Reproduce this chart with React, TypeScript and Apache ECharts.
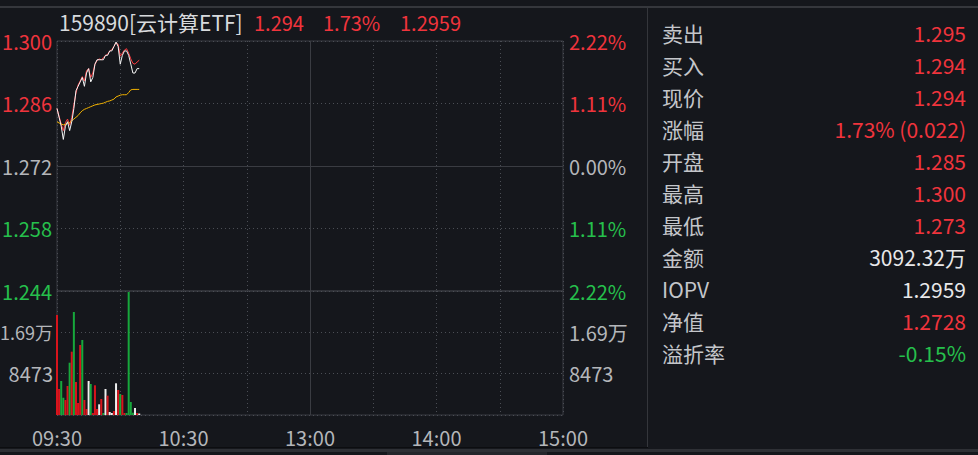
import React, { useEffect, useRef } from 'react';
import * as echarts from 'echarts';

// ---------- data ----------
const prevClose = 1.272;
const pctRange = 2.22; // axis range in percent of previous close
const pctStep = 1.11;

const timeTicks: [number, string][] = [
  [0, '09:30'],
  [60, '10:30'],
  [120, '13:00'],
  [180, '14:00'],
  [240, '15:00'],
];

const price = [
  1.285, 1.283, 1.281, 1.278, 1.281, 1.282, 1.280, 1.282, 1.285, 1.289,
  1.290, 1.291, 1.292, 1.290, 1.293, 1.294, 1.291, 1.292, 1.295, 1.296,
  1.296, 1.296, 1.296, 1.297, 1.297, 1.298, 1.298, 1.299, 1.300, 1.299,
  1.295, 1.297, 1.298, 1.298, 1.297, 1.295, 1.293, 1.293, 1.294, 1.294,
];

const iopv = [
  1.2850, 1.2832, 1.2815, 1.2800, 1.2818, 1.2826, 1.2812, 1.2830, 1.2858, 1.2885,
  1.2903, 1.2912, 1.2922, 1.2912, 1.2935, 1.2940, 1.2920, 1.2930, 1.2950, 1.2958,
  1.2962, 1.2960, 1.2965, 1.2970, 1.2972, 1.2980, 1.2983, 1.2990, 1.2998, 1.2995,
  1.2968, 1.2975, 1.2982, 1.2985, 1.2975, 1.2962, 1.2952, 1.2950, 1.2955, 1.2959,
];

const avgPrice = [
  1.2820, 1.2817, 1.2815, 1.2813, 1.2814, 1.2816, 1.2818, 1.2822, 1.2826, 1.2830,
  1.2834, 1.2840, 1.2845, 1.2848, 1.2850, 1.2852, 1.2854, 1.2856, 1.2858, 1.2859,
  1.2860, 1.2861, 1.2862, 1.2864, 1.2866, 1.2867, 1.2869, 1.2871, 1.2876, 1.2878,
  1.2880, 1.2881, 1.2881, 1.2881, 1.2886, 1.2892, 1.2893, 1.2893, 1.2893, 1.2893,
];

const volume = [
  20500, 5330, 6970, 3550, 3075, 5945, 10720, 12980, 21115, 6765,
  2460, 14350, 15375, 3075, 1230, 6970, 6355, 410, 6090, 1230,
  2190, 3280, 410, 5330, 3960, 615, 410, 820, 6500, 5125,
  4305, 4100, 410, 410, 25215, 2665, 470, 1435, 410, 300,
];
// 1 = up (red), -1 = down (green), 0 = flat (white)
const volumeDirection = [
  1, 1, -1, -1, 1, 1, -1, 1, -1, 1,
  1, 1, -1, 1, 1, 0, -1, 1, 1, 1,
  0, 1, -1, 0, 1, 0, 0, 1, 0, 1,
  -1, 1, 1, -1, -1, -1, -1, 0, 1, 0,
];
const volumeStep = 8473;
const volumeMax = 25419;

const headerCode = '159890[云计算ETF]';
const headerValues = ['1.294', '1.73%', '1.2959'];

const quoteLabels = ['卖出', '买入', '现价', '涨幅', '开盘', '最高', '最低', '金额', 'IOPV', '净值', '溢折率'];
const quoteValues = ['1.295', '1.294', '1.294', '1.73% (0.022)', '1.285', '1.300', '1.273', '3092.32万', '1.2959', '1.2728', '-0.15%'];
const quoteDirection = [1, 1, 1, 1, 1, 1, 1, 0, 0, 1, -1];

// ---------- styles ----------
const BG = '#15171c';
const RED = '#f0343c';
const GREEN = '#26c04c';
const GRAY = '#b4b6ba';
const LABEL = '#c4c6ca';
const WHITE = '#e8e8ea';
const BORDER = '#3a3c42';
const DOT = '#4b4e55';
const FONT = '"Noto Sans CJK SC", "Noto Sans", sans-serif';

const dirColor = (d: number) => (d > 0 ? RED : d < 0 ? GREEN : WHITE);
const toPct = (p: number) => (p / prevClose - 1) * 100;

export default function App() {
  const ref = useRef<HTMLDivElement>(null);

  useEffect(() => {
    if (!ref.current) return;
    const chart = echarts.init(ref.current, undefined, { renderer: 'svg' });

    const tickLabel = new Map(timeTicks);
    const pctColor = (v: any) => {
      const n = Number(v);
      return n > 1e-9 ? RED : n < -1e-9 ? GREEN : GRAY;
    };
    const volFmt = (v: number) => {
      if (v <= 0 || v >= volumeMax - 1) return '';
      return v >= 10000 ? (v / 10000).toFixed(2) + '万' : String(v);
    };
    const volFmtLeft = (v: number) => {
      const s = volFmt(v);
      return v >= 10000 && s ? `{w|${s}}` : s;
    };

    const xCommon = {
      type: 'value',
      min: 0,
      max: 240,
      interval: 30,
      axisLine: { show: false },
      axisTick: { show: false },
      splitLine: { show: true, lineStyle: { color: DOT, type: [1, 3], width: 1 } },
    };

    const priceY = {
      type: 'value',
      gridIndex: 0,
      min: -pctRange,
      max: pctRange,
      interval: pctStep,
      axisLine: { show: false },
      axisTick: { show: false },
    };
    const volY = {
      type: 'value',
      gridIndex: 1,
      min: 0,
      max: volumeMax,
      interval: volumeStep,
      axisLine: { show: false },
      axisTick: { show: false },
    };

    const vertical120 = {
      symbol: 'none',
      silent: true,
      label: { show: false },
      lineStyle: { color: BORDER, type: 'solid', width: 1 },
    };

    const gridBase = {
      left: 57, width: 506, show: true, borderColor: BORDER, borderWidth: 1,
      backgroundColor: 'transparent', containLabel: false, outerBoundsMode: 'none',
    };

    const option: any = {
      animation: false,
      backgroundColor: BG,
      textStyle: { fontFamily: FONT },
      grid: [
        { ...gridBase, top: 41, height: 250 },
        { ...gridBase, top: 291, height: 124 },
      ],
      xAxis: [
        { ...xCommon, gridIndex: 0, axisLabel: { show: false } },
        {
          ...xCommon,
          gridIndex: 1,
          axisLabel: {
            show: true,
            margin: 12,
            color: GRAY,
            fontSize: 20,
            fontFamily: FONT,
            formatter: (v: number) => tickLabel.get(v) ?? '',
          },
        },
      ],
      yAxis: [
        {
          ...priceY,
          position: 'left',
          splitLine: { show: true, lineStyle: { color: DOT, type: [1, 3], width: 1 } },
          axisLabel: {
            margin: 5,
            fontSize: 20,
            fontFamily: FONT,
            color: pctColor,
            formatter: (v: number) => (prevClose * (1 + v / 100)).toFixed(3),
          },
        },
        {
          ...priceY,
          position: 'right',
          splitLine: { show: false },
          axisLabel: {
            margin: 6,
            fontSize: 20,
            fontFamily: FONT,
            color: pctColor,
            formatter: (v: number) => Math.abs(v).toFixed(2) + '%',
          },
        },
        {
          ...volY,
          position: 'left',
          splitLine: { show: true, lineStyle: { color: DOT, type: [1, 3], width: 1 } },
          axisLabel: {
            margin: 4,
            fontSize: 20,
            fontFamily: FONT,
            color: GRAY,
            formatter: volFmtLeft,
            rich: { w: { fontSize: 18, fontFamily: FONT, color: GRAY } },
          },
        },
        {
          ...volY,
          position: 'right',
          splitLine: { show: false },
          axisLabel: { margin: 6, fontSize: 20, fontFamily: FONT, color: GRAY, formatter: volFmt },
        },
      ],
      series: [
        {
          name: 'IOPV',
          type: 'line',
          xAxisIndex: 0,
          yAxisIndex: 0,
          data: iopv.map((v, i) => [i, toPct(v)]),
          showSymbol: false,
          lineStyle: { color: '#ff3b40', width: 1 },
          silent: true,
          z: 3,
        },
        {
          name: '价格',
          type: 'line',
          xAxisIndex: 0,
          yAxisIndex: 0,
          data: price.map((v, i) => [i, toPct(v)]),
          showSymbol: false,
          lineStyle: { color: '#f4f4f4', width: 1 },
          silent: true,
          z: 4,
          markLine: { ...vertical120, data: [{ yAxis: 0 }, { xAxis: 120 }] },
        },
        {
          name: '均价',
          type: 'line',
          xAxisIndex: 0,
          yAxisIndex: 0,
          data: avgPrice.map((v, i) => [i, toPct(v)]),
          showSymbol: false,
          lineStyle: { color: '#f2b200', width: 1 },
          silent: true,
          z: 3,
        },
        {
          name: '成交量',
          type: 'bar',
          xAxisIndex: 1,
          yAxisIndex: 2,
          barWidth: 2,
          data: volume.map((v, i) => ({
            value: [i, v],
            itemStyle: { color: volumeDirection[i] > 0 ? '#d8141c' : volumeDirection[i] < 0 ? '#17a83c' : '#eeeeee' },
          })),
          silent: true,
          markLine: { ...vertical120, data: [{ xAxis: 120 }] },
        },
      ],
      graphic: [
        // frame lines
        { type: 'line', shape: { x1: 0, y1: 7, x2: 978, y2: 7 }, style: { stroke: '#35373c', lineWidth: 2 }, silent: true },
        { type: 'line', shape: { x1: 647.5, y1: 8, x2: 647.5, y2: 448 }, style: { stroke: '#34363b', lineWidth: 1 }, silent: true },
        { type: 'line', shape: { x1: 0, y1: 447.5, x2: 648, y2: 447.5 }, style: { stroke: '#0c0d10', lineWidth: 1 }, silent: true },
        { type: 'rect', shape: { x: 0, y: 449, width: 978, height: 3 }, style: { fill: '#2e3035' }, silent: true },
        { type: 'rect', shape: { x: 387, y: 452, width: 160, height: 3 }, style: { fill: '#24262b' }, silent: true },
        // header
        {
          type: 'text', x: 59, y: 22,
          style: { text: headerCode, fill: '#d8dadd', font: `21px ${FONT}`, align: 'left', verticalAlign: 'middle', textAlign: 'left', textVerticalAlign: 'middle' },
        },
        ...headerValues.map((t, k) => ({
          type: 'text', x: [254, 323, 400][k], y: 22,
          style: { text: t, fill: RED, font: `20px ${FONT}`, align: 'left', verticalAlign: 'middle', textAlign: 'left', textVerticalAlign: 'middle' },
        })),
        // quote panel
        ...quoteLabels.map((t, k) => ({
          type: 'text', x: 662, y: 33 + 32 * k,
          style: { text: t, fill: LABEL, font: `21px ${FONT}`, align: 'left', verticalAlign: 'middle', textAlign: 'left', textVerticalAlign: 'middle' },
        })),
        ...quoteValues.map((t, k) => ({
          type: 'text', x: 966, y: 33 + 32 * k,
          style: { text: t, fill: dirColor(quoteDirection[k]), font: `21px ${FONT}`, align: 'right', verticalAlign: 'middle', textAlign: 'right', textVerticalAlign: 'middle' },
        })),
      ],
    };

    chart.setOption(option);
    return () => chart.dispose();
  }, []);

  return (
    <div
      ref={ref}
      style={{ position: 'fixed', left: 0, top: 0, width: 978, height: 455, background: BG }}
    />
  );
}
